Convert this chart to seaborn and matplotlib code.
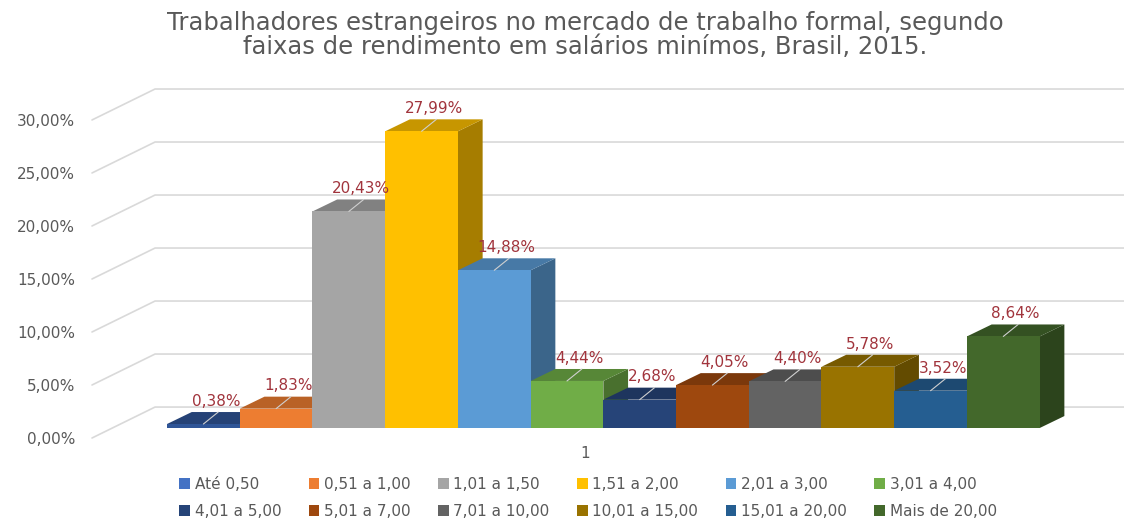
import matplotlib
matplotlib.use("Agg")
import matplotlib.pyplot as plt
import seaborn as sns
import numpy as np
import pandas as pd
from matplotlib.patches import Polygon, Patch
from matplotlib.colors import to_rgb

# dados
faixas = ["Até 0,50", "0,51 a 1,00", "1,01 a 1,50", "1,51 a 2,00", "2,01 a 3,00", "3,01 a 4,00",
          "4,01 a 5,00", "5,01 a 7,00", "7,01 a 10,00", "10,01 a 15,00", "15,01 a 20,00", "Mais de 20,00"]
percentuais = [0.38, 1.83, 20.43, 27.99, 14.88, 4.44, 2.68, 4.05, 4.40, 5.78, 3.52, 8.64]
cores = ["#2F5597", "#ED7D31", "#A5A5A5", "#FFC000", "#5B9BD5", "#70AD47",
         "#264478", "#9E480E", "#636363", "#997300", "#255E91", "#43682B"]
cores_legenda = ["#4472C4", "#ED7D31", "#A5A5A5", "#FFC000", "#5B9BD5", "#70AD47",
                 "#264478", "#9E480E", "#636363", "#997300", "#255E91", "#43682B"]
yticks = [0, 5, 10, 15, 20, 25, 30]

df = pd.DataFrame({"faixa": faixas, "pct": percentuais})

def escurecer(c, f):
    r, g, b = to_rgb(c)
    return (r * f, g * f, b * f)

sns.set_style("white")
plt.rcParams["font.family"] = ["DejaVu Sans"]

fig = plt.figure(figsize=(11.24, 5.2), dpi=100)
ax = fig.add_axes([92 / 1124, 1 - 445 / 520, 1032 / 1124, 365 / 520])

sns.barplot(data=df, x="faixa", y="pct", hue="faixa", palette=cores, width=1.0,
            legend=False, saturation=1, ax=ax, zorder=3)

ax.set_xlim(-1.532, 12.66)
ax.set_ylim(-1.6, 32.83)

# profundidade das barras (efeito 3D)
dx, dy = 0.34, 1.13
# parede de fundo / grade
gx0, gx1 = -1.532, -0.665
for v in yticks:
    ax.plot([gx0, gx1, 12.66], [v - 0.94, v + 1.98, v + 1.98], color="#D9D9D9",
            lw=1.2, zorder=1, clip_on=False)

for patch, val, cor in zip(ax.patches, percentuais, cores):
    patch.set_edgecolor("none")
    x0 = patch.get_x()
    w = patch.get_width()
    h = patch.get_height()
    topo = Polygon([(x0, h), (x0 + dx, h + dy), (x0 + w + dx, h + dy), (x0 + w, h)],
                   closed=True, facecolor=escurecer(cor, 0.78), edgecolor="none", zorder=2)
    lado = Polygon([(x0 + w, 0), (x0 + w + dx, dy), (x0 + w + dx, h + dy), (x0 + w, h)],
                   closed=True, facecolor=escurecer(cor, 0.65), edgecolor="none", zorder=2)
    ax.add_patch(lado)
    ax.add_patch(topo)
    cx = x0 + w / 2
    ax.plot([cx, cx + dx * 0.6], [h, h + dy], color="#D0D0D0", lw=0.8, zorder=4)
    ax.text(cx + dx * 0.5, h + dy + 0.3, f"{val:.2f}%".replace(".", ","),
            ha="center", va="bottom", fontsize=11, color="#A1343C", zorder=5)

ax.set_yticks([v - 0.94 for v in yticks])
ax.set_yticklabels([f"{v:.2f}%".replace(".", ",") for v in yticks], fontsize=11, color="#595959")
ax.tick_params(axis="y", length=0, pad=12)
ax.set_xticks([])
ax.set_xlabel("")
ax.set_ylabel("")
for s in ax.spines.values():
    s.set_visible(False)
ax.patch.set_alpha(0)

fig.text(585 / 1124, 1 - 453 / 520, "1", ha="center", va="center", fontsize=11, color="#595959")

fig.suptitle("Trabalhadores estrangeiros no mercado de trabalho formal, segundo\n"
             "faixas de rendimento em salários minímos, Brasil, 2015.",
             x=585 / 1124, y=1 - 35 / 520, va="center", fontsize=17.5, color="#595959",
             linespacing=1.0)

# legenda em linhas (matplotlib preenche por coluna)
handles = [Patch(facecolor=c, edgecolor="none") for c in cores_legenda]
ordem = [i for par in zip(range(6), range(6, 12)) for i in par]
leg = fig.legend([handles[i] for i in ordem], [faixas[i] for i in ordem], ncol=6,
                 loc="center", bbox_to_anchor=(588 / 1124, 1 - 498 / 520), frameon=False,
                 handlelength=0.7, handleheight=0.7, handletextpad=0.3, columnspacing=1.8,
                 labelspacing=0.8, prop={"size": 11}, labelcolor="#595959")

fig.savefig("out.png", dpi=100)
